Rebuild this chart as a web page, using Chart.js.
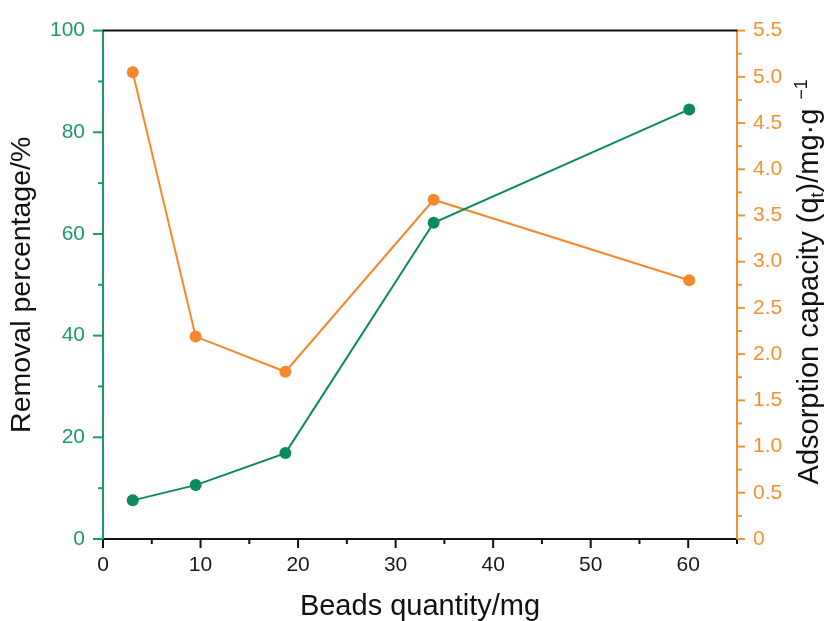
<!DOCTYPE html>
<html>
<head>
<meta charset="utf-8">
<script src="https://cdn.jsdelivr.net/npm/chart.js@4/dist/chart.umd.min.js"></script>
<style>
  html, body { margin: 0; padding: 0; background: #ffffff; }
  #wrap { width: 827px; height: 621px; position: relative; }
</style>
</head>
<body>
<div id="wrap"><canvas id="chart"></canvas></div>
<script>
// Bead dosage (mg) and the two responses measured at each dosage
const beadsMg      = [3.05, 9.5, 18.7, 33.9, 60.1];
const removalPct   = [7.6, 10.6, 16.9, 62.2, 84.5];
const capacityMgG  = [5.05, 2.19, 1.81, 3.67, 2.80];

// Axis ticks and their labels
const xMajorTicks     = [0, 10, 20, 30, 40, 50, 60];
const xTickLabels     = ['0', '10', '20', '30', '40', '50', '60'];
const xMinorTicks     = [5, 15, 25, 35, 45, 55, 65];
const leftMajorTicks  = [0, 20, 40, 60, 80, 100];
const leftTickLabels  = ['0', '20', '40', '60', '80', '100'];
const leftMinorTicks  = [10, 30, 50, 70, 90];
const rightMajorTicks = [0, 0.5, 1.0, 1.5, 2.0, 2.5, 3.0, 3.5, 4.0, 4.5, 5.0, 5.5];
const rightTickLabels = ['0', '0.5', '1.0', '1.5', '2.0', '2.5', '3.0', '3.5', '4.0', '4.5', '5.0', '5.5'];
const rightMinorTicks = [0.25, 0.75, 1.25, 1.75, 2.25, 2.75, 3.25, 3.75, 4.25, 4.75, 5.25];

const GREEN = '#0b8a5c';
const GREEN_AXIS = '#1c9a6c';
const ORANGE = '#f5882c';
const ORANGE_AXIS = '#f7912f';
const FONT = '"Liberation Sans", Arial, sans-serif';

Chart.defaults.font.family = FONT;

// Outward major/minor tick marks, the top frame line and the right-hand title
const frameAndTicks = {
  id: 'frameAndTicks',
  afterDraw(chart) {
    const { ctx, chartArea: a, scales } = chart;
    ctx.save();
    ctx.lineWidth = 2;
    ctx.lineCap = 'butt';

    const seg = (x1, y1, x2, y2) => {
      ctx.beginPath(); ctx.moveTo(x1, y1); ctx.lineTo(x2, y2); ctx.stroke();
    };

    // top frame
    ctx.strokeStyle = '#111111';
    seg(a.left - 1, a.top, a.right + 1, a.top);

    // x ticks
    xMajorTicks.forEach(v => { const p = scales.x.getPixelForValue(v); seg(p, a.bottom, p, a.bottom + 9); });
    xMinorTicks.forEach(v => { const p = scales.x.getPixelForValue(v); seg(p, a.bottom, p, a.bottom + 5); });

    // left ticks
    ctx.strokeStyle = GREEN_AXIS;
    leftMajorTicks.forEach(v => { const p = scales.y.getPixelForValue(v); seg(a.left - 10, p, a.left, p); });
    leftMinorTicks.forEach(v => { const p = scales.y.getPixelForValue(v); seg(a.left - 5, p, a.left, p); });

    // right ticks
    ctx.strokeStyle = ORANGE_AXIS;
    rightMajorTicks.forEach(v => { const p = scales.y2.getPixelForValue(v); seg(a.right, p, a.right + 8, p); });
    rightMinorTicks.forEach(v => { const p = scales.y2.getPixelForValue(v); seg(a.right, p, a.right + 5, p); });

    // right axis title with subscript and superscript
    const parts = [
      { t: 'Adsorption capacity (q', size: 29, dy: 0, gap: 0 },
      { t: 't', size: 18, dy: 5, gap: 0 },
      { t: ')/mg\u00B7g', size: 29, dy: 0, gap: 0 },
      { t: '\u22121', size: 18, dy: -11, gap: 9 }
    ];
    let total = 0;
    parts.forEach(p => { ctx.font = p.size + 'px ' + FONT; p.w = ctx.measureText(p.t).width; total += p.gap + p.w; });
    const cy = (a.top + a.bottom) / 2 - 3;
    ctx.translate(818, cy);
    ctx.rotate(-Math.PI / 2);
    ctx.fillStyle = '#111111';
    ctx.textBaseline = 'alphabetic';
    ctx.textAlign = 'left';
    let x = -total / 2;
    parts.forEach(p => {
      x += p.gap;
      ctx.font = p.size + 'px ' + FONT;
      ctx.fillText(p.t, x, p.dy);
      x += p.w;
    });
    ctx.restore();
  }
};

new Chart(document.getElementById('chart'), {
  type: 'line',
  data: {
    datasets: [
      {
        label: 'Removal percentage',
        data: beadsMg.map((x, i) => ({ x, y: removalPct[i] })),
        yAxisID: 'y',
        borderColor: GREEN,
        backgroundColor: GREEN,
        borderWidth: 2,
        pointRadius: 6,
        pointBorderWidth: 0,
        pointBackgroundColor: GREEN,
        tension: 0
      },
      {
        label: 'Adsorption capacity',
        data: beadsMg.map((x, i) => ({ x, y: capacityMgG[i] })),
        yAxisID: 'y2',
        borderColor: ORANGE,
        backgroundColor: ORANGE,
        borderWidth: 2,
        pointRadius: 6,
        pointBorderWidth: 0,
        pointBackgroundColor: ORANGE,
        tension: 0
      }
    ]
  },
  options: {
    responsive: true,
    maintainAspectRatio: false,
    animation: false,
    devicePixelRatio: 1,
    layout: { padding: { top: 29, left: 0, right: 0, bottom: 0 } },
    plugins: { legend: { display: false }, tooltip: { enabled: false } },
    scales: {
      x: {
        type: 'linear',
        position: 'bottom',
        min: 0,
        max: 65,
        afterBuildTicks: s => { s.ticks = xMajorTicks.map(v => ({ value: v })); },
        afterFit: s => { s.height = 82; },
        ticks: {
          color: '#1a1a1a',
          font: { size: 21 },
          padding: 14,
          maxRotation: 0,
          callback: (v, i) => xTickLabels[i]
        },
        grid: { display: false, drawTicks: false },
        border: { color: '#111111', width: 2 },
        title: {
          display: true,
          text: 'Beads quantity/mg',
          color: '#111111',
          font: { size: 29 },
          padding: { top: 0, bottom: -3 }
        }
      },
      y: {
        type: 'linear',
        position: 'left',
        min: 0,
        max: 100,
        afterBuildTicks: s => { s.ticks = leftMajorTicks.map(v => ({ value: v })); },
        afterFit: s => { s.width = 103; },
        ticks: {
          color: GREEN_AXIS,
          font: { size: 21 },
          padding: 18,
          callback: (v, i) => leftTickLabels[i]
        },
        grid: { display: false, drawTicks: false },
        border: { color: GREEN_AXIS, width: 2 },
        title: {
          display: true,
          text: 'Removal percentage/%',
          color: '#111111',
          font: { size: 28.5 },
          padding: { top: 5, bottom: 0 }
        }
      },
      y2: {
        type: 'linear',
        position: 'right',
        min: 0,
        max: 5.5,
        afterBuildTicks: s => { s.ticks = rightMajorTicks.map(v => ({ value: v })); },
        afterFit: s => { s.width = 90; },
        ticks: {
          color: ORANGE_AXIS,
          font: { size: 21 },
          padding: 16,
          callback: (v, i) => rightTickLabels[i]
        },
        grid: { display: false, drawTicks: false },
        border: { color: ORANGE_AXIS, width: 2 }
      }
    }
  },
  plugins: [frameAndTicks]
});
</script>
</body>
</html>
